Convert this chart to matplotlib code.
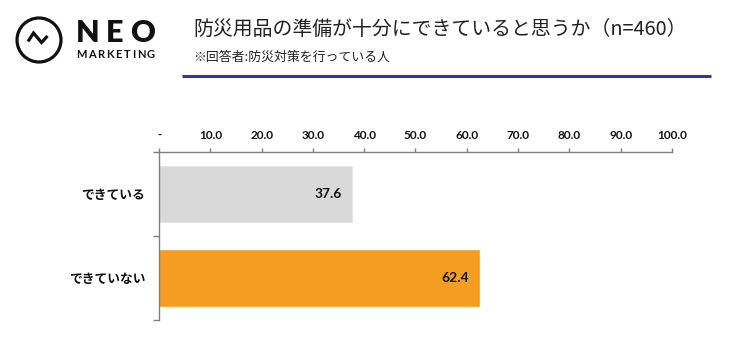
import matplotlib
matplotlib.use('Agg')
import matplotlib.pyplot as plt
from matplotlib.patches import Circle

# ---- data ----
categories = ['できている', 'できていない']
values = [37.6, 62.4]
bar_colors = ['#D9D9D9', '#F59D21']
edge_colors = ['#E6E6E6', '#F7AE4C']
tick_values = [0, 10, 20, 30, 40, 50, 60, 70, 80, 90, 100]
tick_labels = ['-', '10.0', '20.0', '30.0', '40.0', '50.0',
               '60.0', '70.0', '80.0', '90.0', '100.0']
title = '防災用品の準備が十分にできていると思うか（n=460）'
subtitle = '※回答者:防災対策を行っている人'
logo_word = 'NEO'
logo_sub = 'MARKETING'

CJK = ['Noto Sans CJK JP', 'DejaVu Sans']
NUM = ['Lato', 'DejaVu Sans']
AXIS_GRAY = '#7F7F7F'

W, H = 732, 342
fig = plt.figure(figsize=(W / 100, H / 100), dpi=100)
fig.patch.set_facecolor('white')
renderer = fig.canvas.get_renderer()

# ---- header layer in pixel coordinates ----
hdr = fig.add_axes([0, 0, 1, 1])
hdr.set_xlim(0, W)
hdr.set_ylim(H, 0)
hdr.axis('off')
hdr.patch.set_alpha(0)

# logo mark: ring with a zigzag inside
hdr.add_patch(Circle((39, 40), 22, fill=False, lw=2.3, color='#111111'))
hdr.plot([28, 33.5, 41.5, 47.5], [41.5, 33, 42.5, 36], color='#111111',
         lw=2.3, solid_joinstyle='miter', solid_capstyle='butt')


def spaced_text(s, x0, x1, yc, **kw):
    """Lay out letters of s between x0 and x1 with even gaps."""
    items = [hdr.text(0, yc, ch, ha='left', va='center', **kw) for ch in s]
    widths = [t.get_window_extent(renderer).width for t in items]
    gap = (x1 - x0 - sum(widths)) / (len(s) - 1)
    x = x0
    for t, w in zip(items, widths):
        t.set_x(x)
        x += w + gap


spaced_text(logo_word, 76, 155, 33, fontsize=22, fontweight='heavy',
            family=NUM, color='#111111')
spaced_text(logo_sub, 76, 155, 55, fontsize=8, fontweight='bold',
            family=NUM, color='#111111')

hdr.text(193, 29, title, ha='left', va='center', fontsize=14.3,
         family=CJK, color='#222222')
hdr.text(193, 57, subtitle, ha='left', va='center', fontsize=9.3,
         family=CJK, color='#222222')
hdr.plot([182, 711], [76, 76], color='#2E3A8C', lw=2.2,
         solid_capstyle='butt')

# ---- bar chart ----
ax = fig.add_axes([159 / W, (H - 320) / H, (672 - 159) / W, (320 - 152) / H])
ypos = list(range(len(categories)))
bars = ax.barh(ypos, values, height=0.667, color=bar_colors,
               edgecolor=edge_colors, linewidth=0.8)

ax.set_xlim(0, 100)
ax.set_ylim(len(categories) - 0.5, -0.5)

ax.xaxis.tick_top()
ax.set_xticks(tick_values)
ax.set_xticklabels(tick_labels, family=NUM, fontweight='bold', fontsize=8.5,
                   color='#111111')
ax.tick_params(axis='x', direction='out', length=3, width=1,
               color=AXIS_GRAY, pad=5)

ax.set_yticks(ypos)
ax.set_yticklabels(categories, family=CJK, fontweight='bold', fontsize=9.2,
                   color='#111111')
ax.tick_params(axis='y', which='major', length=0, pad=10)
ax.set_yticks([i - 0.5 for i in range(len(categories) + 1)], minor=True)
ax.tick_params(axis='y', which='minor', direction='out', length=4, width=1,
               color=AXIS_GRAY)

for side in ['right', 'bottom']:
    ax.spines[side].set_visible(False)
for side in ['top', 'left']:
    ax.spines[side].set_color(AXIS_GRAY)
    ax.spines[side].set_linewidth(1.0)

for rect, v in zip(bars, values):
    ax.annotate(f'{v:.1f}', xy=(v, rect.get_y() + rect.get_height() / 2),
                xytext=(-7, 0), textcoords='offset points',
                ha='right', va='center', fontsize=10, fontweight='bold',
                family=NUM, color='#111111')

fig.savefig('out.png', dpi=100, facecolor='white')
